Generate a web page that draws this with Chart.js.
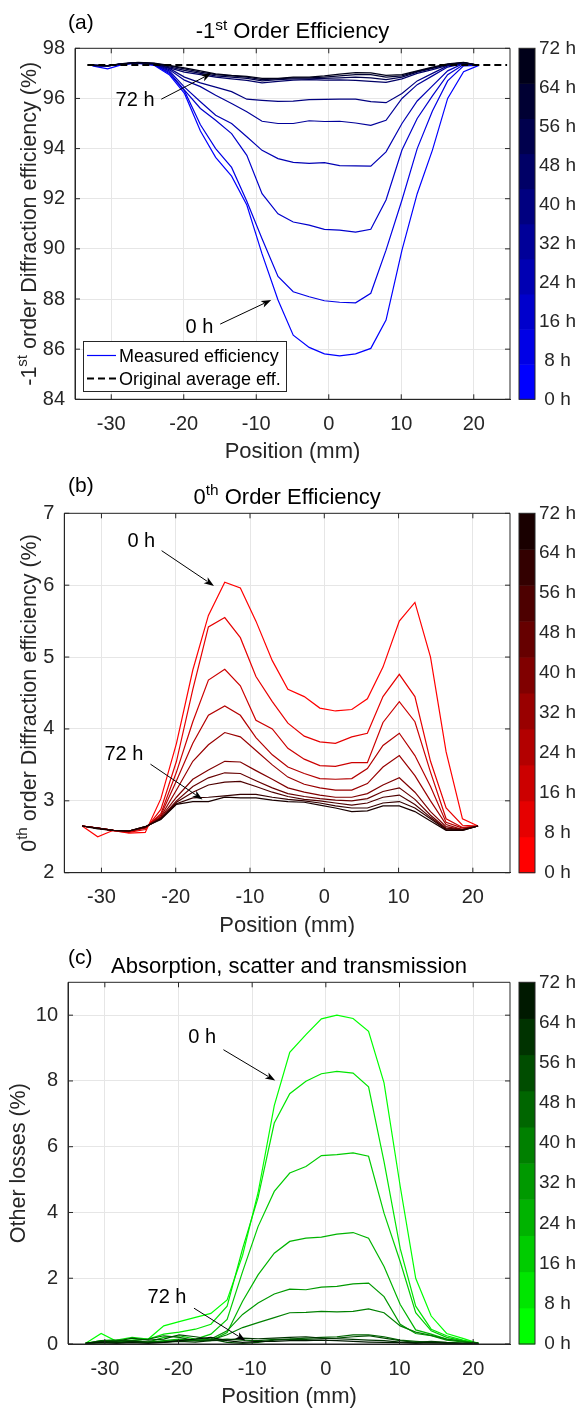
<!DOCTYPE html>
<html lang="en">
<head>
<meta charset="UTF-8">
<title>Efficiency recovery vs position</title>
<script src="https://cdn.jsdelivr.net/npm/chart.js"></script>
<style>
  body { margin: 0; background: #fff; }
  canvas { position: absolute; left: 0; }
</style>
</head>
<body>
<canvas id="chartA" width="579" height="470" style="top:0px"></canvas>
<canvas id="chartB" width="579" height="470" style="top:470px"></canvas>
<canvas id="chartC" width="579" height="470" style="top:940px"></canvas>
<script>
// measurement positions (mm) and the time of each scan (h)
const position = [-32.6, -30.5, -28.4, -26.3, -24.1, -22.0, -19.9, -17.7, -15.6, -13.4, -11.3, -9.2, -7.0,
                  -4.9, -2.7, -0.6, 1.5, 3.7, 5.8, 7.9, 10.1, 12.2, 14.3, 16.4, 18.6, 20.7];
const hours = [0, 8, 16, 24, 32, 40, 48, 56, 64, 72];

// -1st order efficiency (%), one row per scan time
const firstOrder = [
  [97.30, 97.18, 97.36, 97.40, 97.32, 96.95, 96.20, 94.70, 93.65, 92.90, 91.75, 89.80, 87.96, 86.56, 86.07, 85.81, 85.73, 85.81, 86.03, 87.16, 89.95, 92.20, 93.94, 96.00, 97.07, 97.32],
  [97.32, 97.30, 97.38, 97.42, 97.35, 97.00, 96.30, 94.95, 94.00, 93.25, 91.90, 90.40, 88.90, 88.29, 88.09, 87.93, 87.87, 87.85, 88.23, 89.95, 91.95, 94.00, 95.50, 96.70, 97.30, 97.32],
  [97.32, 97.30, 97.38, 97.42, 97.35, 97.05, 96.33, 95.60, 95.13, 94.60, 93.73, 92.20, 91.40, 91.07, 90.95, 90.78, 90.75, 90.67, 90.78, 91.95, 93.94, 95.20, 96.10, 96.95, 97.35, 97.32],
  [97.32, 97.30, 97.38, 97.42, 97.36, 97.10, 96.45, 95.87, 95.33, 95.00, 94.47, 93.93, 93.60, 93.45, 93.41, 93.44, 93.32, 93.31, 93.30, 93.87, 95.00, 95.90, 96.50, 97.10, 97.40, 97.32],
  [97.32, 97.30, 97.38, 97.42, 97.37, 97.15, 96.73, 96.47, 96.13, 95.80, 95.47, 95.09, 95.00, 95.00, 95.11, 95.08, 95.09, 95.02, 94.93, 95.13, 96.00, 96.55, 96.90, 97.25, 97.40, 97.32],
  [97.32, 97.30, 97.38, 97.42, 97.38, 97.20, 96.85, 96.62, 96.45, 96.27, 95.97, 95.92, 95.88, 95.89, 95.95, 95.96, 95.97, 95.97, 95.87, 95.83, 96.20, 96.70, 97.00, 97.30, 97.42, 97.32],
  [97.32, 97.30, 97.38, 97.42, 97.38, 97.22, 97.05, 96.95, 96.85, 96.78, 96.72, 96.62, 96.68, 96.73, 96.75, 96.73, 96.74, 96.72, 96.68, 96.64, 96.78, 97.00, 97.15, 97.32, 97.42, 97.32],
  [97.32, 97.31, 97.38, 97.43, 97.39, 97.26, 97.12, 97.00, 96.90, 96.85, 96.80, 96.70, 96.75, 96.78, 96.78, 96.80, 96.82, 96.85, 96.82, 96.75, 96.85, 97.05, 97.20, 97.35, 97.43, 97.32],
  [97.32, 97.31, 97.39, 97.43, 97.40, 97.30, 97.18, 97.05, 96.95, 96.90, 96.85, 96.75, 96.78, 96.82, 96.82, 96.85, 96.90, 96.95, 96.95, 96.85, 96.90, 97.08, 97.22, 97.36, 97.43, 97.32],
  [97.32, 97.31, 97.39, 97.44, 97.41, 97.32, 97.22, 97.10, 96.98, 96.92, 96.88, 96.80, 96.80, 96.85, 96.85, 96.90, 96.97, 97.03, 97.02, 96.92, 96.95, 97.10, 97.25, 97.38, 97.44, 97.32]
];
const originalAverage = 97.33;
const averageSpan = [-33.3, 24.6];

// 0th order efficiency (%)
const zerothOrder = [
  [2.65, 2.50, 2.59, 2.55, 2.56, 3.03, 3.80, 4.82, 5.58, 6.04, 5.96, 5.50, 4.95, 4.55, 4.45, 4.29, 4.25, 4.27, 4.42, 4.86, 5.50, 5.76, 5.00, 3.68, 2.75, 2.65],
  [2.65, 2.62, 2.58, 2.56, 2.60, 2.88, 3.55, 4.55, 5.42, 5.55, 5.27, 4.73, 4.38, 4.08, 3.90, 3.82, 3.80, 3.89, 3.94, 4.45, 4.76, 4.45, 3.55, 2.90, 2.66, 2.65],
  [2.65, 2.62, 2.59, 2.57, 2.62, 2.82, 3.40, 4.10, 4.68, 4.83, 4.60, 4.12, 4.00, 3.73, 3.58, 3.49, 3.48, 3.53, 3.53, 4.09, 4.38, 4.10, 3.40, 2.75, 2.63, 2.65],
  [2.65, 2.62, 2.59, 2.57, 2.63, 2.80, 3.28, 3.80, 4.19, 4.32, 4.19, 3.88, 3.64, 3.47, 3.38, 3.31, 3.30, 3.31, 3.45, 3.77, 3.94, 3.63, 3.20, 2.70, 2.62, 2.65],
  [2.65, 2.62, 2.59, 2.58, 2.63, 2.78, 3.15, 3.55, 3.78, 3.95, 3.89, 3.70, 3.50, 3.33, 3.23, 3.18, 3.15, 3.15, 3.24, 3.47, 3.63, 3.35, 3.00, 2.67, 2.60, 2.65],
  [2.65, 2.62, 2.59, 2.58, 2.63, 2.77, 3.05, 3.30, 3.43, 3.55, 3.54, 3.42, 3.30, 3.18, 3.12, 3.08, 3.05, 3.05, 3.10, 3.22, 3.32, 3.12, 2.85, 2.64, 2.60, 2.65],
  [2.65, 2.62, 2.59, 2.58, 2.63, 2.76, 3.00, 3.20, 3.32, 3.39, 3.38, 3.28, 3.18, 3.10, 3.06, 3.03, 3.01, 3.00, 3.03, 3.13, 3.18, 3.02, 2.80, 2.62, 2.60, 2.65],
  [2.65, 2.62, 2.59, 2.58, 2.64, 2.75, 2.98, 3.12, 3.22, 3.26, 3.27, 3.20, 3.12, 3.06, 3.02, 3.00, 2.97, 2.94, 2.97, 3.05, 3.08, 2.95, 2.77, 2.61, 2.60, 2.65],
  [2.65, 2.62, 2.59, 2.58, 2.64, 2.75, 2.96, 3.04, 3.05, 3.07, 3.09, 3.09, 3.05, 3.02, 3.00, 2.97, 2.93, 2.90, 2.90, 2.97, 2.99, 2.90, 2.75, 2.60, 2.59, 2.65],
  [2.65, 2.61, 2.59, 2.58, 2.64, 2.74, 2.95, 2.99, 2.99, 3.05, 3.04, 3.04, 3.01, 2.99, 2.98, 2.94, 2.90, 2.85, 2.86, 2.93, 2.93, 2.85, 2.72, 2.59, 2.59, 2.65]
];

// absorption, scatter and transmission (%)
const otherLosses = [
  [0.02, 0.32, 0.08, 0.12, 0.15, 0.55, 0.68, 0.81, 0.93, 1.34, 2.70, 4.60, 7.25, 8.87, 9.41, 9.89, 10.00, 9.90, 9.51, 7.94, 4.79, 2.00, 0.85, 0.32, 0.17, 0.02],
  [0.02, 0.10, 0.12, 0.20, 0.15, 0.30, 0.36, 0.45, 0.60, 1.15, 2.90, 4.45, 6.72, 7.61, 7.99, 8.22, 8.29, 8.24, 7.82, 5.55, 2.90, 1.15, 0.45, 0.25, 0.12, 0.02],
  [0.03, 0.05, 0.08, 0.10, 0.06, 0.20, 0.25, 0.15, 0.30, 0.75, 2.20, 3.57, 4.64, 5.20, 5.40, 5.73, 5.76, 5.81, 5.71, 3.98, 2.50, 0.95, 0.40, 0.20, 0.10, 0.02],
  [0.03, 0.06, 0.05, 0.08, 0.05, 0.10, 0.15, 0.12, 0.10, 0.35, 1.30, 2.10, 2.76, 3.12, 3.22, 3.25, 3.34, 3.39, 3.22, 2.36, 1.20, 0.43, 0.30, 0.15, 0.08, 0.02],
  [0.02, 0.05, 0.04, 0.06, 0.05, 0.08, 0.10, 0.12, 0.15, 0.40, 0.90, 1.25, 1.52, 1.67, 1.65, 1.73, 1.75, 1.83, 1.85, 1.44, 0.60, 0.32, 0.25, 0.12, 0.06, 0.02],
  [0.02, 0.04, 0.05, 0.05, 0.06, 0.08, 0.10, 0.10, 0.12, 0.28, 0.50, 0.65, 0.80, 0.95, 0.96, 0.99, 0.98, 0.99, 1.07, 0.95, 0.55, 0.36, 0.26, 0.15, 0.08, 0.02],
  [0.02, 0.10, 0.12, 0.10, 0.15, 0.25, 0.20, 0.10, 0.12, 0.15, 0.12, 0.10, 0.14, 0.15, 0.18, 0.20, 0.22, 0.28, 0.28, 0.22, 0.12, 0.08, 0.05, 0.03, 0.02, 0.02],
  [0.02, 0.06, 0.08, 0.18, 0.12, 0.15, 0.28, 0.22, 0.15, 0.05, 0.02, 0.05, 0.12, 0.15, 0.14, 0.16, 0.18, 0.22, 0.25, 0.18, 0.10, 0.05, 0.08, 0.05, 0.03, 0.02],
  [0.02, 0.08, 0.05, 0.08, 0.06, 0.05, 0.08, 0.06, 0.10, 0.12, 0.18, 0.16, 0.18, 0.20, 0.22, 0.18, 0.16, 0.14, 0.12, 0.10, 0.06, 0.04, 0.06, 0.04, 0.02, 0.02],
  [0.02, 0.04, 0.02, 0.04, 0.02, 0.05, 0.10, 0.15, 0.20, 0.10, 0.05, 0.08, 0.08, 0.10, 0.10, 0.12, 0.10, 0.08, 0.06, 0.05, 0.04, 0.02, 0.03, 0.02, 0.01, 0.02]
];

// tick labels
const xTicks = [-30, -20, -10, 0, 10, 20];
const yTicksA = [84, 86, 88, 90, 92, 94, 96, 98];
const yTicksB = [2, 3, 4, 5, 6, 7];
const yTicksC = [0, 2, 4, 6, 8, 10];
const barTicks = [0, 8, 16, 24, 32, 40, 48, 56, 64, 72];

const FONT = "'Liberation Sans', Arial, Helvetica, sans-serif";
const INK = '#262626';
const GRID = '#e6e6e6';

// colour i of 10: full channel at 0 h fading to near black at 72 h
function shade(channel, i) {
  const v = Math.round(255 * (1 - i / 10));
  const c = [0, 0, 0];
  c[channel] = v;
  return 'rgb(' + c.join(',') + ')';
}

function curveSets(rows, channel) {
  return rows.map((row, i) => ({
    label: hours[i] + ' h',
    data: row.map((v, k) => ({x: position[k], y: v})),
    borderColor: shade(channel, i),
    borderWidth: 1.2,
    pointRadius: 0,
    tension: 0,
    order: rows.length - i
  }));
}

function font(size) { return size + 'px ' + FONT; }

// text made of pieces, some of them superscript
function drawRich(ctx, parts, x, y, size, align) {
  let w = 0;
  parts.forEach(p => { ctx.font = font(p.sup ? size * 0.7 : size); w += ctx.measureText(p.t).width; });
  let cx = align === 'center' ? x - w / 2 : x;
  ctx.textAlign = 'left';
  ctx.textBaseline = 'alphabetic';
  parts.forEach(p => {
    const s = p.sup ? size * 0.7 : size;
    ctx.font = font(s);
    ctx.fillText(p.t, cx, p.sup ? y - size * 0.4 : y);
    cx += ctx.measureText(p.t).width;
  });
}

function drawArrow(ctx, x0, y0, x1, y1) {
  const a = Math.atan2(y1 - y0, x1 - x0);
  const len = 10, half = 3.6;
  ctx.strokeStyle = '#000';
  ctx.fillStyle = '#000';
  ctx.lineWidth = 1;
  ctx.beginPath();
  ctx.moveTo(x0, y0);
  ctx.lineTo(x1 - len * 0.8 * Math.cos(a), y1 - len * 0.8 * Math.sin(a));
  ctx.stroke();
  ctx.beginPath();
  ctx.moveTo(x1, y1);
  ctx.lineTo(x1 - len * Math.cos(a) + half * Math.sin(a), y1 - len * Math.sin(a) - half * Math.cos(a));
  ctx.lineTo(x1 - len * 0.75 * Math.cos(a), y1 - len * 0.75 * Math.sin(a));
  ctx.lineTo(x1 - len * Math.cos(a) - half * Math.sin(a), y1 - len * Math.sin(a) + half * Math.cos(a));
  ctx.closePath();
  ctx.fill();
}

const panelDecor = {
  id: 'panelDecor',
  afterDraw(chart, args, o) {
    const ctx = chart.ctx;
    const area = chart.chartArea;
    const sx = chart.scales.x, sy = chart.scales.y, cb = chart.scales.cb;
    ctx.save();

    // box and inward ticks
    ctx.strokeStyle = INK;
    ctx.lineWidth = 1;
    ctx.beginPath();
    ctx.rect(area.left, area.top, area.right - area.left, area.bottom - area.top);
    sx.ticks.forEach(t => {
      const px = sx.getPixelForValue(t.value);
      ctx.moveTo(px, area.bottom); ctx.lineTo(px, area.bottom - 5);
      ctx.moveTo(px, area.top); ctx.lineTo(px, area.top + 5);
    });
    sy.ticks.forEach(t => {
      const py = sy.getPixelForValue(t.value);
      ctx.moveTo(area.left, py); ctx.lineTo(area.left + 5, py);
      ctx.moveTo(area.right, py); ctx.lineTo(area.right - 5, py);
    });
    ctx.stroke();

    // colour bar
    const bx = area.right + 9, bw = 16;
    for (let i = 0; i < hours.length; i++) {
      const y0 = cb.getPixelForValue(72 * i / hours.length);
      const y1 = cb.getPixelForValue(72 * (i + 1) / hours.length);
      ctx.fillStyle = shade(o.channel, i);
      ctx.fillRect(bx, y1, bw, y0 - y1 + 0.5);
    }
    ctx.strokeStyle = INK;
    ctx.strokeRect(bx, cb.top, bw, cb.bottom - cb.top);

    // panel tag and title
    ctx.fillStyle = '#000';
    ctx.font = font(21);
    ctx.textAlign = 'left';
    ctx.textBaseline = 'alphabetic';
    ctx.fillText(o.tag, 68, o.tagY);
    drawRich(ctx, o.title, (area.left + area.right) / 2, o.titleY, 22, 'center');

    // axis labels
    ctx.fillStyle = INK;
    drawRich(ctx, [{t: 'Position (mm)'}], (area.left + area.right) / 2, area.bottom + 59, 22, 'center');
    ctx.save();
    ctx.translate(o.yLabelX, (area.top + area.bottom) / 2);
    ctx.rotate(-Math.PI / 2);
    drawRich(ctx, o.yLabel, 0, 0, 21.5, 'center');
    ctx.restore();

    // time annotations
    o.notes.forEach(n => {
      ctx.font = font(20);
      ctx.textAlign = 'left';
      ctx.fillStyle = '#000';
      ctx.fillText(n.text, sx.getPixelForValue(n.tx), sy.getPixelForValue(n.ty));
      drawArrow(ctx, sx.getPixelForValue(n.from[0]), sy.getPixelForValue(n.from[1]),
                sx.getPixelForValue(n.to[0]), sy.getPixelForValue(n.to[1]));
    });

    // legend box (panel a only)
    if (o.legend) {
      ctx.fillStyle = '#fff';
      ctx.fillRect(83, 341, 203, 50);
      ctx.strokeStyle = INK;
      ctx.lineWidth = 1;
      ctx.strokeRect(83.5, 341.5, 203, 50);
      ctx.lineWidth = 1.2;
      ctx.strokeStyle = shade(2, 0);
      ctx.beginPath(); ctx.moveTo(87, 355.5); ctx.lineTo(116, 355.5); ctx.stroke();
      ctx.strokeStyle = '#000';
      ctx.lineWidth = 2;
      ctx.setLineDash([7, 4]);
      ctx.beginPath(); ctx.moveTo(87, 378.5); ctx.lineTo(117, 378.5); ctx.stroke();
      ctx.setLineDash([]);
      ctx.fillStyle = '#000';
      ctx.font = font(18);
      ctx.fillText('Measured efficiency', 119, 362);
      ctx.fillText('Original average eff.', 119, 385);
    }
    ctx.restore();
  }
};

function makeChart(id, cfg) {
  const tickFont = {family: FONT, size: 20};
  return new Chart(document.getElementById(id), {
    type: 'line',
    data: {datasets: cfg.datasets},
    options: {
      responsive: false,
      animation: false,
      events: [],
      layout: {padding: {left: 0, right: 0, top: cfg.area.top, bottom: 470 - cfg.area.bottom - 60}},
      plugins: {legend: {display: false}, tooltip: {enabled: false}, panelDecor: cfg.decor},
      scales: {
        x: {
          type: 'linear', min: -35, max: 25,
          afterBuildTicks: s => { s.ticks = xTicks.map(v => ({value: v})); },
          afterFit: s => { s.height = 60; },
          grid: {color: GRID, drawTicks: false},
          border: {color: INK},
          ticks: {padding: 13, color: INK, font: tickFont, callback: v => String(v)}
        },
        y: {
          type: 'linear', min: cfg.yMin, max: cfg.yMax,
          afterBuildTicks: s => { s.ticks = cfg.yTicks.map(v => ({value: v})); },
          afterFit: s => { s.width = cfg.area.left; },
          grid: {color: GRID, drawTicks: false},
          border: {color: INK},
          ticks: {padding: 10, color: INK, font: tickFont, callback: v => String(v)}
        },
        cb: {
          type: 'linear', position: 'right', min: 0, max: 72,
          afterBuildTicks: s => { s.ticks = barTicks.map(v => ({value: v})); },
          afterFit: s => { s.width = 579 - 510; },
          grid: {display: false, drawTicks: false},
          border: {display: false},
          ticks: {padding: 29, crossAlign: 'center', color: INK, font: {family: FONT, size: 19}, callback: v => v + ' h'}
        }
      }
    },
    plugins: [panelDecor]
  });
}

const avgSet = {
  label: 'Original average eff.',
  data: averageSpan.map(x => ({x: x, y: originalAverage})),
  borderColor: '#000',
  borderWidth: 2,
  borderDash: [7, 4],
  pointRadius: 0,
  order: 0
};

makeChart('chartA', {
  datasets: curveSets(firstOrder, 2).concat([avgSet]),
  area: {left: 75, top: 48.3, bottom: 399.3},
  yMin: 84, yMax: 98, yTicks: yTicksA,
  decor: {
    channel: 2, tag: '(a)', tagY: 29, titleY: 38.3,
    title: [{t: '-1'}, {t: 'st', sup: true}, {t: ' Order Efficiency'}],
    yLabel: [{t: '-1'}, {t: 'st', sup: true}, {t: ' order Diffraction efficiency (%)'}], yLabelX: 35.5,
    legend: true,
    notes: [
      {text: '72 h', tx: -29.4, ty: 95.7, from: [-23.1, 95.97], to: [-16.2, 97.0]},
      {text: '0 h', tx: -19.75, ty: 86.64, from: [-14.97, 87.0], to: [-7.93, 87.96]}
    ]
  }
});

makeChart('chartB', {
  datasets: curveSets(zerothOrder, 0),
  area: {left: 64.3, top: 43.3, bottom: 402.7},
  yMin: 2, yMax: 7, yTicks: yTicksB,
  decor: {
    channel: 0, tag: '(b)', tagY: 22.3, titleY: 34,
    title: [{t: '0'}, {t: 'th', sup: true}, {t: ' Order Efficiency'}],
    yLabel: [{t: '0'}, {t: 'th', sup: true}, {t: ' order Diffraction efficiency (%)'}], yLabelX: 36,
    notes: [
      {text: '0 h', tx: -26.5, ty: 6.535, from: [-21.9, 6.48], to: [-14.85, 5.99]},
      {text: '72 h', tx: -29.6, ty: 3.565, from: [-23.4, 3.51], to: [-16.4, 3.02]}
    ]
  }
});

makeChart('chartC', {
  datasets: curveSets(otherLosses, 1),
  area: {left: 68, top: 42.3, bottom: 404},
  yMin: 0, yMax: 11, yTicks: yTicksC,
  decor: {
    channel: 1, tag: '(c)', tagY: 24, titleY: 32.7,
    title: [{t: 'Absorption, scatter and transmission'}],
    yLabel: [{t: 'Other losses (%)'}], yLabelX: 25,
    notes: [
      {text: '0 h', tx: -18.66, ty: 9.14, from: [-13.9, 8.95], to: [-6.87, 8.01]},
      {text: '72 h', tx: -24.2, ty: 1.24, from: [-17.9, 1.09], to: [-10.9, 0.1]}
    ]
  }
});
</script>
</body>
</html>
